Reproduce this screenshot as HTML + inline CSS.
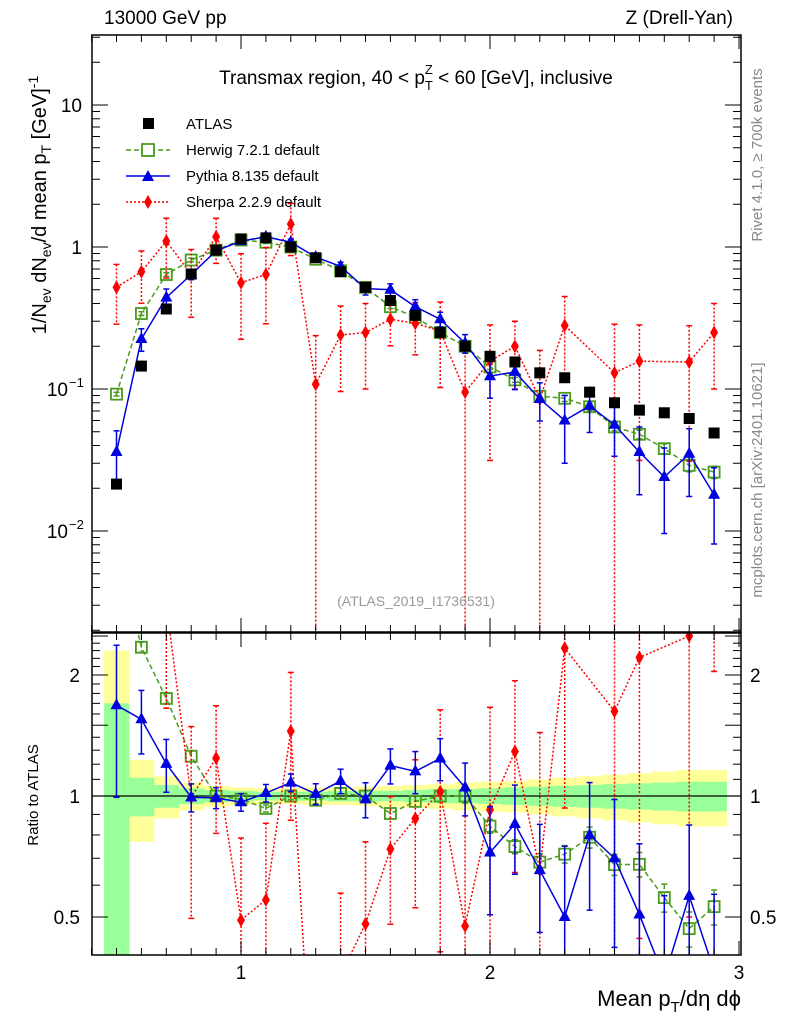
<!DOCTYPE html>
<html><head><meta charset="utf-8"><style>
html,body{margin:0;padding:0;background:#fff;width:786px;height:1024px;overflow:hidden;}
svg{display:block;font-family:"Liberation Sans",sans-serif;}
</style></head><body>
<svg id="chart" width="786" height="1024" viewBox="0 0 786 1024" xmlns="http://www.w3.org/2000/svg">
<defs>
<clipPath id="cm"><rect x="92" y="35" width="649" height="597"/></clipPath>
<clipPath id="cr"><rect x="92" y="633" width="649" height="322"/></clipPath>
</defs>
<g id="bands" clip-path="url(#cr)"></g>
<g id="marks"></g>
<g id="axes"></g>
<text x="104" y="24" font-size="19">13000 GeV pp</text>
<text x="733" y="24" font-size="19" text-anchor="end">Z (Drell-Yan)</text>
<text x="416" y="84" font-size="19" text-anchor="middle">Transmax region, 40 &lt; p<tspan font-size="13" dy="6">T</tspan><tspan font-size="13" dx="-8" dy="-16">Z</tspan><tspan dy="10"> &lt; 60 [GeV], inclusive</tspan></text>
<text x="416" y="606" font-size="14" fill="#999" text-anchor="middle">(ATLAS_2019_I1736531)</text>
<g font-size="15">
<rect x="143" y="118" width="11" height="11" fill="#000"/>
<text x="186" y="129">ATLAS</text>
<line x1="126" y1="150" x2="170" y2="150" stroke="#4a9a1c" stroke-width="1.5" stroke-dasharray="5,3"/>
<rect x="142" y="144" width="12" height="12" fill="#fff" stroke="#4a9a1c" stroke-width="1.8"/>
<text x="186" y="155">Herwig 7.2.1 default</text>
<line x1="126" y1="176" x2="170" y2="176" stroke="#0000e0" stroke-width="1.5"/>
<path d="M148,170 L154,181 L142,181 Z" fill="#0000e0"/>
<text x="186" y="181">Pythia 8.135 default</text>
<line x1="126" y1="202" x2="170" y2="202" stroke="#f00" stroke-width="1.5" stroke-dasharray="2,2"/>
<path d="M148,195 L152,202 L148,209 L144,202 Z" fill="#f00"/>
<text x="186" y="207">Sherpa 2.2.9 default</text>
</g>
<text transform="translate(762,155) rotate(-90)" font-size="15" fill="#888" text-anchor="middle">Rivet 4.1.0, ≥ 700k events</text>
<text transform="translate(762,480) rotate(-90)" font-size="15" fill="#888" text-anchor="middle">mcplots.cern.ch [arXiv:2401.10621]</text>
<text transform="translate(46,205) rotate(-90)" font-size="20" text-anchor="middle">1/N<tspan font-size="14" dy="5">ev</tspan><tspan dy="-5"> dN</tspan><tspan font-size="14" dy="5">ev</tspan><tspan dy="-5">/d mean p</tspan><tspan font-size="14" dy="5">T</tspan><tspan dy="-5"> [GeV]</tspan><tspan font-size="14" dy="-8">-1</tspan></text>
<text transform="translate(38,795) rotate(-90)" font-size="15" text-anchor="middle">Ratio to ATLAS</text>
<text x="741" y="1006" font-size="22" text-anchor="end">Mean p<tspan font-size="15" dy="6">T</tspan><tspan dy="-6">/dη dϕ</tspan></text>
<script>
const xs=[0.5,0.6,0.7,0.8,0.9,1.0,1.1,1.2,1.3,1.4,1.5,1.6,1.7,1.8,1.9,2.0,2.1,2.2,2.3,2.4,2.5,2.6,2.7,2.8,2.9];
const atlas=[0.0214,0.145,0.366,0.645,0.95,1.14,1.16,1.0,0.84,0.67,0.52,0.42,0.33,0.25,0.2,0.17,0.155,0.13,0.12,0.095,0.08,0.071,0.068,0.062,0.049];
const atlasTot=[1.3,0.23,0.12,0.08,0.06,0.05,0.045,0.045,0.05,0.05,0.055,0.06,0.065,0.07,0.08,0.085,0.09,0.1,0.11,0.12,0.13,0.14,0.15,0.16,0.16];
const atlasStat=[0.7,0.11,0.065,0.045,0.035,0.03,0.025,0.025,0.025,0.03,0.03,0.03,0.035,0.04,0.04,0.045,0.05,0.055,0.06,0.065,0.07,0.075,0.08,0.085,0.085];
const herwig=[0.092,0.34,0.64,0.81,0.95,1.12,1.08,1.0,0.82,0.68,0.52,0.38,0.32,0.25,0.2,0.143,0.116,0.089,0.086,0.075,0.054,0.048,0.038,0.029,0.026];
const herwigErr=[0.03,0.03,0.03,0.03,0.03,0.02,0.02,0.02,0.02,0.03,0.03,0.03,0.03,0.03,0.04,0.04,0.04,0.05,0.05,0.06,0.06,0.07,0.08,0.1,0.1];
const pythia=[0.036,0.225,0.44,0.64,0.94,1.1,1.18,1.08,0.85,0.73,0.51,0.5,0.38,0.31,0.21,0.123,0.132,0.085,0.06,0.076,0.056,0.036,0.024,0.035,0.018];
const pythiaErr=[0.41,0.18,0.15,0.08,0.06,0.05,0.05,0.05,0.06,0.07,0.1,0.1,0.12,0.12,0.15,0.3,0.25,0.3,0.5,0.35,0.4,0.5,0.6,0.5,0.55];
const sherpa=[0.52,0.67,1.1,0.64,1.18,0.56,0.64,1.45,0.108,0.24,0.25,0.31,0.29,0.256,0.095,0.157,0.2,0.085,0.28,null,0.13,0.157,null,0.155,0.25];
const sherpaErr=[0.45,0.4,0.45,0.5,0.35,0.6,0.55,0.4,1.2,0.6,0.6,0.35,0.4,0.6,1.2,0.8,0.5,1.2,0.6,null,1.2,0.8,null,0.8,0.6];
const NS="http://www.w3.org/2000/svg";
const X=v=>241+(v-1)*249;
const YM=v=>247-142*Math.log10(v);
const YR=r=>796-121*Math.log2(r);
const yBot=632, rTop=633, rBot=955;
function mk(parent,tag,at){const e=document.createElementNS(NS,tag);for(const k in at)e.setAttribute(k,at[k]);parent.appendChild(e);return e;}
const bands=document.getElementById('bands'),marks=document.getElementById('marks'),axes=document.getElementById('axes');
xs.forEach((x,i)=>{
  const y1=YR(1+atlasTot[i]),y2=YR(Math.max(1-atlasTot[i],0.01));
  const b=mk(bands,'rect',{x:X(x-0.05),y:y1,width:X(x+0.05)-X(x-0.05)+0.5,height:y2-y1,fill:'#ffff99'});
  
  
});
xs.forEach((x,i)=>{
  const y1=YR(1+atlasStat[i]),y2=YR(Math.max(1-atlasStat[i],0.01));
  const b=mk(bands,'rect',{x:X(x-0.05),y:y1,width:X(x+0.05)-X(x-0.05)+0.5,height:y2-y1,fill:'#99ff99'});
  
  
});
mk(bands,'line',{x1:92,y1:YR(1),x2:741,y2:YR(1),stroke:'#000','stroke-width':1.3});
const gm=mk(marks,'g',{'clip-path':'url(#cm)'}),gr=mk(marks,'g',{'clip-path':'url(#cr)'});
function marker(g,type,cx,cy,col){
  let e;
  if(type==='sq') e=mk(g,'rect',{x:cx-5.5,y:cy-5.5,width:11,height:11,fill:'#000'});
  else if(type==='osq') e=mk(g,'rect',{x:cx-5.5,y:cy-5.5,width:11,height:11,fill:'none',stroke:col,'stroke-width':1.8});
  else if(type==='tri') e=mk(g,'path',{d:`M${cx},${cy-7}L${cx+6},${cy+4}L${cx-6},${cy+4}Z`,fill:col});
  else e=mk(g,'path',{d:`M${cx},${cy-7}L${cx+4},${cy}L${cx},${cy+7}L${cx-4},${cy}Z`,fill:col});
  return e;
}
function series(name,vals,errs,col,dash,type,ratio){
  const g=ratio?gr:gm;
  const Y=ratio?YR:YM;
  const pts=[];
  xs.forEach((x,i)=>{
    if(vals[i]==null)return;
    const v=ratio?vals[i]/atlas[i]:vals[i];
    const e=errs[i]*v;
    const lo=v-e>0?Y(v-e):(ratio?rBot+5:yBot+5);
    const l=mk(g,'line',{x1:X(x),x2:X(x),y1:Y(v+e),y2:lo,stroke:col,'stroke-width':1.5,'stroke-dasharray':dash});
    
    
    [Y(v+e),lo].forEach(yy=>mk(g,'line',{x1:X(x)-3,x2:X(x)+3,y1:yy,y2:yy,stroke:col,'stroke-width':1.5}));
    pts.push([X(x),Y(v)]);
  });
  const p=mk(g,'polyline',{points:pts.map(p=>p.join(',')).join(' '),fill:'none',stroke:col,'stroke-width':1.5,'stroke-dasharray':dash});
  
  
  pts.forEach(pt=>{const m=marker(g,type,pt[0],pt[1],col);
    
    });
}
[false,true].forEach(r=>{
  series('herwig'+(r?'-ratio':''),herwig,herwigErr,'#4a9a1c','5,3','osq',r);
  series('sherpa'+(r?'-ratio':''),sherpa,sherpaErr,'#f00','2,2','dia',r);
  series('pythia'+(r?'-ratio':''),pythia,pythiaErr,'#0000e0','','tri',r);
});
xs.forEach((x,i)=>{const m=marker(gm,'sq',X(x),YM(atlas[i]),'#000');
  
  });
mk(axes,'rect',{x:92,y:35,width:649,height:597,fill:'none',stroke:'#000','stroke-width':1.5});
mk(axes,'rect',{x:92,y:633,width:649,height:322,fill:'none',stroke:'#000','stroke-width':1.5});
for(let k=4;k<=30;k++){const v=k/10,x=X(v),L=(k%10===0)?14:7;
  [[35,35+L],[632-L,632],[633,633+L],[955-L,955]].forEach(a=>mk(axes,'line',{x1:x,x2:x,y1:a[0],y2:a[1],stroke:'#000','stroke-width':1}));}
const xTicks=['1','2','3'];
xTicks.forEach((t,i)=>{const tx=mk(axes,'text',{x:X(i+1),y:979,'font-size':19,'text-anchor':'middle'});tx.textContent=t;
  
  });
for(let d=-3;d<=1;d++)for(let m=1;m<10;m++){const v=m*Math.pow(10,d),y=YM(v);if(y<35||y>632)continue;const L=m===1?16:8;
  mk(axes,'line',{x1:92,x2:92+L,y1:y,y2:y,stroke:'#000'});mk(axes,'line',{x1:741-L,x2:741,y1:y,y2:y,stroke:'#000'});}
const yTickVals=[10,1,0.1,0.01];
const yTickBase=['10','1','10','10'];
const yTickExp=['','','−1','−2'];
yTickVals.forEach((v,i)=>{const t=mk(axes,'text',{x:yTickExp[i]?68:82,y:YM(v)+7,'font-size':19,'text-anchor':'end'});t.textContent=yTickBase[i];
  
  
  if(yTickExp[i]){const s=mk(axes,'text',{x:69,y:YM(v)-2,'font-size':13});s.textContent=yTickExp[i];}});
for(let k=4;k<=25;k++){const r=k/10,y=YR(r);if(y<633||y>955)continue;const L=(k%5===0)?16:8;
  mk(axes,'line',{x1:92,x2:92+L,y1:y,y2:y,stroke:'#000'});mk(axes,'line',{x1:741-L,x2:741,y1:y,y2:y,stroke:'#000'});}
const rTicks=[2,1,0.5];
const rLabels=['2','1','0.5'];
rTicks.forEach((r,i)=>{[[80,'end'],[750,'start']].forEach(a=>{const t=mk(axes,'text',{x:a[0],y:YR(r)+7,'font-size':19,'text-anchor':a[1]});t.textContent=rLabels[i];
  
  });});
</script>
</svg>
</body></html>
